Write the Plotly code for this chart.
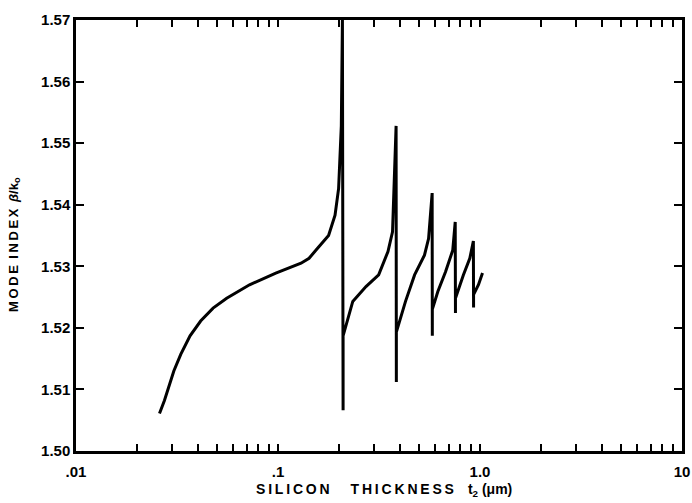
import plotly.graph_objects as go

# Mode index of the guided mode versus silicon film thickness.
# Repeated thickness values trace the near-vertical jumps at each resonance.
thickness_um = [
    0.0259, 0.0274, 0.0305, 0.0330, 0.0367, 0.0414, 0.0477, 0.0557, 0.0723,
    0.0975, 0.1300, 0.1425, 0.1566, 0.1780, 0.1916, 0.1995, 0.2058, 0.2084,
    0.2100, 0.2100,
    0.2345, 0.2726, 0.3150, 0.3503, 0.3689, 0.3762, 0.3843,
    0.3854, 0.3854,
    0.4278, 0.4745, 0.5310, 0.5565, 0.5796,
    0.5807, 0.5807,
    0.6185, 0.6752, 0.7329, 0.7539,
    0.7560, 0.7560,
    0.8274, 0.8904, 0.9272,
    0.9293, 0.9293,
    0.9828, 1.0290,
]
mode_index = [
    1.5061, 1.5082, 1.5130, 1.5157, 1.5187, 1.5211, 1.5232, 1.5248, 1.5270,
    1.5289, 1.5305, 1.5313, 1.5329, 1.5350, 1.5383, 1.5426, 1.5528, 1.5700,
    1.5066, 1.5187,
    1.5243, 1.5267, 1.5286, 1.5324, 1.5356, 1.5431, 1.5528,
    1.5112, 1.5193,
    1.5243, 1.5286, 1.5318, 1.5345, 1.5419,
    1.5187, 1.5230,
    1.5259, 1.5291, 1.5326, 1.5372,
    1.5224, 1.5248,
    1.5286, 1.5313, 1.5341,
    1.5233, 1.5254,
    1.5270, 1.5289,
]

x_major = [0.01, 0.1, 1.0, 10.0]
x_major_text = [".01", ".1", "1.0", "10"]
x_minor = [m * d for d in (0.01, 0.1, 1.0) for m in range(2, 10)]
y_ticks = [1.50, 1.51, 1.52, 1.53, 1.54, 1.55, 1.56, 1.57]
y_tick_text = [f"{v:.2f}" for v in y_ticks]

# every decade and sub-decade position, labelled only at the decades
x_tickvals = sorted(x_major + x_minor)
x_ticktext = [x_major_text[x_major.index(v)] if v in x_major else "" for v in x_tickvals]


def spaced(text):
    """Open up the lettering with thin spaces between characters."""
    return "\u2009".join(text)


x_title = spaced("SILICON") + "\u2003\u2002" + spaced("THICKNESS") + "\u2003t<sub>2</sub> (μm)"
y_title = spaced("MODE") + "\u2002" + spaced("INDEX") + "\u2002<i>β</i>/k<sub>o</sub>"

FAMILY = "Liberation Sans, Arial, sans-serif"
tick_font = dict(family=FAMILY, size=15, color="black", weight="bold")

fig = go.Figure()
fig.add_trace(go.Scatter(
    x=thickness_um, y=mode_index, mode="lines",
    line=dict(color="black", width=3),
    hoverinfo="skip", showlegend=False,
))

fig.update_layout(
    width=692, height=503,
    margin=dict(l=76, r=2, t=20, b=52),
    paper_bgcolor="white", plot_bgcolor="white",
    xaxis=dict(
        type="log", range=[-2, 1], showgrid=False, zeroline=False,
        tickmode="array", tickvals=x_tickvals, ticktext=x_ticktext,
        ticks="inside", ticklen=7, tickwidth=2, tickcolor="black",
        showline=True, linecolor="black", linewidth=2.5, mirror="ticks",
        tickfont=tick_font, ticklabelstandoff=5, ticklabeloverflow="allow",
    ),
    yaxis=dict(
        range=[1.50, 1.57],
        tickmode="array", tickvals=y_ticks, ticktext=y_tick_text,
        ticks="inside", ticklen=8, tickwidth=2, tickcolor="black",
        showline=True, linecolor="black", linewidth=2.5, mirror="ticks",
        showgrid=False, zeroline=False, tickfont=tick_font,
    ),
    annotations=[
        dict(text=x_title, xref="paper", yref="paper", x=0.508, y=-0.09,
             xanchor="center", yanchor="middle", showarrow=False,
             font=dict(family=FAMILY, size=14, color="black", weight="bold")),
        dict(text=y_title, xref="paper", yref="paper", x=-0.1026, y=0.48,
             xanchor="center", yanchor="middle", showarrow=False, textangle=-90,
             font=dict(family=FAMILY, size=13, color="black", weight="bold")),
    ],
)

fig.write_html("out.html")
